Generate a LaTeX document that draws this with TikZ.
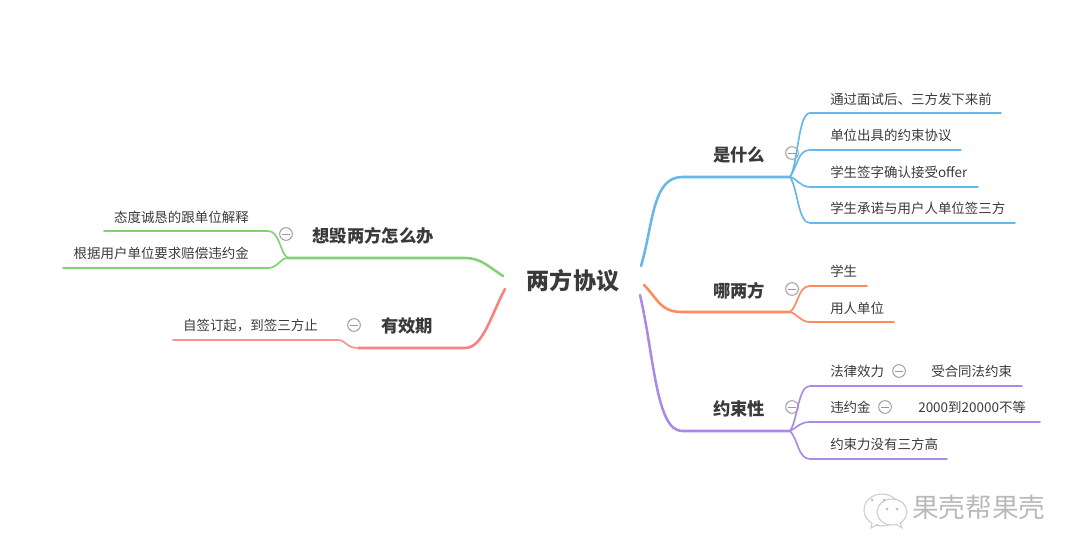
\documentclass[tikz,border=0pt]{standalone}
\usepackage{fontspec}
\setmainfont{Noto Sans CJK SC}
\usetikzlibrary{positioning, arrows.meta}

\definecolor{bluebr}{HTML}{66B8EA}
\definecolor{orangebr}{HTML}{FF8A5C}
\definecolor{purplebr}{HTML}{A98BE6}
\definecolor{greenbr}{HTML}{82D274}
\definecolor{redbr}{HTML}{FA7F7F}
\definecolor{inkcol}{HTML}{3A3A3A}

\begin{document}
\begin{tikzpicture}[
	x=0.75pt, y=-0.75pt,
	% Define styles
	rootnode/.style={inner sep=0pt, text=inkcol, font=\fontsize{17.3}{20}\selectfont\bfseries},
	topic/.style={inner sep=0pt, text=inkcol, font=\fontsize{13}{15}\selectfont\bfseries},
	leaf/.style={inner sep=0pt, text=inkcol, font=\fontsize{10.1}{12}\selectfont},
	collapse/.style={circle, draw=gray!80, inner sep=0pt, minimum size=9.5pt, line width=0.7pt,
		path picture={\draw[gray!80, line width=0.7pt] ([xshift=1.5pt]path picture bounding box.west) -- ([xshift=-1.5pt]path picture bounding box.east);}},
	mainline/.style={line width=1.9pt, line cap=round},
	leafline/.style={line width=1.25pt, line cap=round}
	]
	\useasboundingbox (0,0) rectangle (1080,555);
	
	% 1. Main Subject
	\node[rootnode] (main) at (573,281) {两方协议};
	\coordinate (blueroot) at (641,266);
	\coordinate (orangeroot) at (644,285);
	\coordinate (purpleroot) at (640,295);
	\coordinate (greenroot) at (503,276);
	\coordinate (redroot) at (505,289);
	
	% 2. Right side topics
	\node[topic] (what) at (739,154.5) {是什么};
	\node[topic] (which) at (739,290.5) {哪两方};
	\node[topic] (bind) at (739,408.5) {约束性};
	\node[collapse] (whatc) at (792,153) {};
	\node[collapse] (whichc) at (792,289) {};
	\node[collapse] (bindc) at (792,407) {};
	\coordinate (whathub) at (790,177);
	\coordinate (whichhub) at (790,312);
	\coordinate (bindhub) at (790,431);
	
	% Leaves of the blue topic
	\node[leaf, anchor=west] (w1) at (830,99.5) {通过面试后、三方发下来前};
	\node[leaf, anchor=west] (w2) at (830,135.5) {单位出具的约束协议};
	\node[leaf, anchor=west] (w3) at (830,172) {学生签字确认接受offer};
	\node[leaf, anchor=west] (w4) at (830,208.5) {学生承诺与用户人单位签三方};
	\coordinate (w1e) at (1001,113);
	\coordinate (w2e) at (961,150);
	\coordinate (w3e) at (978,187);
	\coordinate (w4e) at (1015,223);
	
	% Leaves of the orange topic
	\node[leaf, anchor=west] (p1) at (830,271.5) {学生};
	\node[leaf, anchor=west] (p2) at (830,308.5) {用人单位};
	\coordinate (p1e) at (867,286);
	\coordinate (p2e) at (894,322);
	
	% Leaves of the purple topic
	\node[leaf, anchor=west] (b1) at (830,371.5) {法律效力};
	\node[collapse] (b1c) at (899,371) {};
	\node[leaf, anchor=west] (b1x) at (931,371.5) {受合同法约束};
	\node[leaf, anchor=west] (b2) at (830,407.5) {违约金};
	\node[collapse] (b2c) at (885,407) {};
	\node[leaf, anchor=west] (b2x) at (918,407.5) {2000到20000不等};
	\node[leaf, anchor=west] (b3) at (830,444.5) {约束力没有三方高};
	\coordinate (b1e) at (1022,386);
	\coordinate (b2e) at (1040,422);
	\coordinate (b3e) at (947,459);
	
	% 3. Left side topics
	\node[topic] (ruin) at (373,236) {想毁两方怎么办};
	\node[collapse] (ruinc) at (286,234) {};
	\node[leaf, anchor=east] (r1) at (249,217.5) {态度诚恳的跟单位解释};
	\node[leaf, anchor=east] (r2) at (249,253.5) {根据用户单位要求赔偿违约金};
	\coordinate (ruinhub) at (288,258);
	\coordinate (r1e) at (104,231);
	\coordinate (r2e) at (63,268);
	
	\node[topic] (valid) at (407,326) {有效期};
	\node[collapse] (validc) at (354,325) {};
	\node[leaf, anchor=east] (v1) at (318,325.5) {自签订起，到签三方止};
	\coordinate (validhub) at (358,348);
	\coordinate (v1e) at (173,340);
	
	% Main branches
	\draw[mainline, bluebr] (blueroot) .. controls +(12,-40) and +(-30,0) .. (682,177) -- (whathub);
	\draw[mainline, orangebr] (orangeroot) .. controls +(14,14) and +(-22,0) .. (682,312) -- (whichhub);
	\draw[mainline, purplebr] (purpleroot) .. controls +(14,60) and +(-26,0) .. (682,431) -- (bindhub);
	\draw[mainline, greenbr] (greenroot) .. controls +(-14,-9) and +(16,0) .. (465,258) -- (ruinhub);
	\draw[mainline, redbr] (redroot) .. controls +(-14,26) and +(18,0) .. (465,348) -- (validhub);
	
	% Blue leaf lines
	\draw[leafline, bluebr] (whathub) .. controls +(8,-12) and +(-12,0) .. (810,113) -- (w1e);
	\draw[leafline, bluebr] (whathub) .. controls +(8,-12) and +(-12,0) .. (810,150) -- (w2e);
	\draw[leafline, bluebr] (whathub) .. controls +(8,2) and +(-10,0) .. (810,187) -- (w3e);
	\draw[leafline, bluebr] (whathub) .. controls +(8,12) and +(-12,0) .. (810,223) -- (w4e);
	
	% Orange leaf lines
	\draw[leafline, orangebr] (whichhub) .. controls +(8,-6) and +(-12,0) .. (810,286) -- (p1e);
	\draw[leafline, orangebr] (whichhub) .. controls +(8,2) and +(-10,0) .. (810,322) -- (p2e);
	
	% Purple leaf lines
	\draw[leafline, purplebr] (bindhub) .. controls +(8,-12) and +(-12,0) .. (810,386) -- (b1e);
	\draw[leafline, purplebr] (bindhub) .. controls +(8,-4) and +(-10,0) .. (810,422) -- (b2e);
	\draw[leafline, purplebr] (bindhub) .. controls +(8,8) and +(-12,0) .. (810,459) -- (b3e);
	
	% Green and red leaf lines
	\draw[leafline, greenbr] (ruinhub) .. controls +(-8,-4) and +(12,0) .. (268,231) -- (r1e);
	\draw[leafline, greenbr] (ruinhub) .. controls +(-8,0) and +(10,0) .. (268,268) -- (r2e);
	\draw[leafline, redbr!85!white] (validhub) .. controls +(-12,0) and +(8,0) .. (338,340) -- (v1e);
	
	% 4. Watermark
	\node[font=\fontsize{20}{22}\selectfont, text=gray!55, inner sep=0pt, anchor=west] (brand) at (912,507) {果壳帮果壳};
	\draw[gray!40, line width=0.8pt, fill=white] (882,510) ellipse (18 and 16);
	\draw[gray!40, line width=0.8pt, fill=white] (872,523) -- (871,528) -- (878,524);
	\draw[gray!40, line width=0.8pt, fill=white] (892,512) ellipse (15 and 13);
	\draw[gray!40, line width=0.8pt, fill=white] (900,522) -- (902,528) -- (896,524);
	\fill[gray!50] (872,500) circle (1.5) (884,500) circle (1.5) (887,509) circle (1.5) (897,509) circle (1.5);
\end{tikzpicture}
\end{document}
